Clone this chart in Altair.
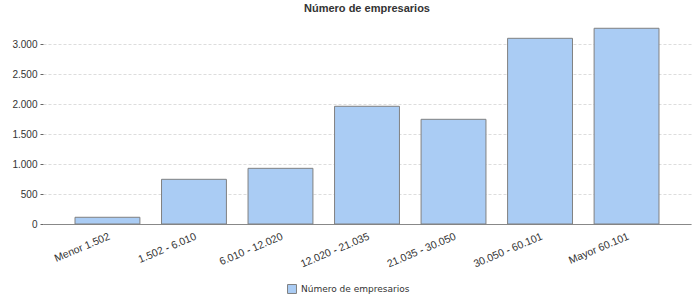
import altair as alt
import pandas as pd

categories = ["Menor 1.502", "1.502 - 6.010", "6.010 - 12.020", "12.020 - 21.035",
              "21.035 - 30.050", "30.050 - 60.101", "Mayor 60.101"]
values = [112, 745, 928, 1962, 1745, 3095, 3262]
series_name = "Número de empresarios"

df = pd.DataFrame({"cat": categories, "val": values, "serie": [series_name] * len(values)})

chart = alt.Chart(df).mark_bar(stroke="#808080", strokeWidth=1).encode(
    x=alt.X("cat:N", sort=categories, title=None,
            scale=alt.Scale(paddingInner=0.25, paddingOuter=0.37),
            axis=alt.Axis(labelAngle=-23, ticks=False, domainColor="#888888",
                          labelFont="Liberation Sans", labelFontSize=10.5, labelColor="#333333",
                          labelPadding=7, grid=False)),
    y=alt.Y("val:Q", title=None,
            scale=alt.Scale(domain=[0, 3300], nice=False),
            axis=alt.Axis(values=[0, 500, 1000, 1500, 2000, 2500, 3000],
                          labelExpr="replace(format(datum.value, ','), ',', '.')",
                          domain=False, tickColor="#666666", tickSize=3,
                          labelFont="Liberation Sans", labelFontSize=10, labelColor="#333333",
                          gridColor="#dddddd", gridDash=[3, 2], labelPadding=3)),
    color=alt.Color("serie:N", scale=alt.Scale(range=["#aaccf4"]), title=None,
                    legend=alt.Legend(orient="none", legendX=244, legendY=258,
                                      symbolType="square", symbolSize=80,
                                      symbolStrokeColor="#808080", symbolStrokeWidth=1,
                                      labelFont="DejaVu Sans", labelFontSize=9,
                                      labelColor="#333333")),
).properties(
    width=648, height=198,
    title=alt.TitleParams(series_name, font="Liberation Sans", fontSize=11,
                          fontWeight="bold", color="#333333", anchor="middle", offset=12),
    padding={"left": 43, "top": 26, "right": 9, "bottom": 76},
    autosize=alt.AutoSizeParams(type="none"),
).configure_view(stroke=None)

chart.save("out.html", embed_options={"renderer": "svg", "actions": False})
